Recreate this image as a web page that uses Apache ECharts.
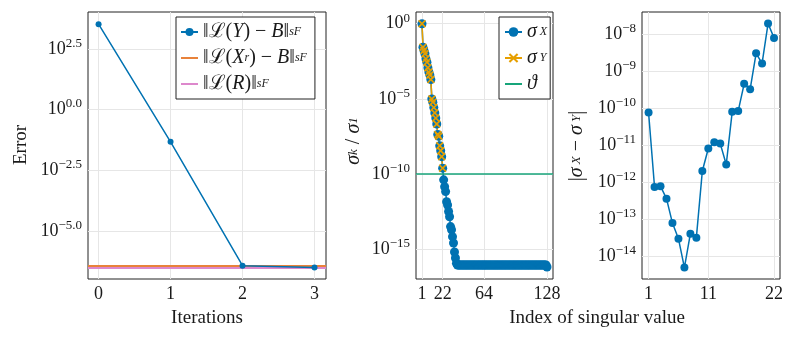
<!DOCTYPE html>
<html>
<head>
<meta charset="utf-8">
<script src="https://cdn.jsdelivr.net/npm/echarts@6/dist/echarts.min.js"></script>
<style>
  html, body { margin: 0; padding: 0; background: #fff; }
  #chart { width: 793px; height: 340px; }
</style>
</head>
<body>
<div id="chart"></div>
<script>
// ---- data ----
const iterations = [0, 1, 2, 3]
const errY = [3.3e3, 4.7e-2, 3.7e-7, 3.1e-7]   // ||L(Y) - B||_sF
const errXr = 3.6e-7                            // ||L(X_r) - B||_sF (horizontal line)
const errR = 3.1e-7                             // ||L(R)||_sF (horizontal line)

const sigmaX = [
  1, 2.75e-2, 1.66e-2, 1.0e-2, 4.57e-3, 2.75e-3, 1.17e-3, 6.0e-4, 3.8e-4, 1.9e-4,
  9.8e-6, 6.0e-6, 2.6e-6, 1.15e-6, 5.2e-7, 2.1e-7, 4.2e-8, 3.2e-8, 7.4e-9, 3.5e-9,
  1.4e-9, 2.4e-10, 4.0e-11, 1.4e-11, 6.6e-12, 1.4e-12, 8.5e-13, 3.1e-13, 1.4e-13, 3.1e-14,
  1.9e-14, 6.6e-15, 2.5e-15, 6.3e-16, 2.5e-16, 1.1e-16, 8.5e-17, 8.5e-17, 8.5e-17, 8.5e-17,
  8.5e-17, 8.5e-17, 8.5e-17, 8.5e-17, 8.5e-17, 8.5e-17, 8.5e-17, 8.5e-17, 8.5e-17, 8.5e-17,
  8.5e-17, 8.5e-17, 8.5e-17, 8.5e-17, 8.5e-17, 8.5e-17, 8.5e-17, 8.5e-17, 8.5e-17, 8.5e-17,
  8.5e-17, 8.5e-17, 8.5e-17, 8.5e-17, 8.5e-17, 8.5e-17, 8.5e-17, 8.5e-17, 8.5e-17, 8.5e-17,
  8.5e-17, 8.5e-17, 8.5e-17, 8.5e-17, 8.5e-17, 8.5e-17, 8.5e-17, 8.5e-17, 8.5e-17, 8.5e-17,
  8.5e-17, 8.5e-17, 8.5e-17, 8.5e-17, 8.5e-17, 8.5e-17, 8.5e-17, 8.5e-17, 8.5e-17, 8.5e-17,
  8.5e-17, 8.5e-17, 8.5e-17, 8.5e-17, 8.5e-17, 8.5e-17, 8.5e-17, 8.5e-17, 8.5e-17, 8.5e-17,
  8.5e-17, 8.5e-17, 8.5e-17, 8.5e-17, 8.5e-17, 8.5e-17, 8.5e-17, 8.5e-17, 8.5e-17, 8.5e-17,
  8.5e-17, 8.5e-17, 8.5e-17, 8.5e-17, 8.5e-17, 8.5e-17, 8.5e-17, 8.5e-17, 8.5e-17, 8.5e-17,
  8.5e-17, 8.5e-17, 8.5e-17, 8.5e-17, 8.5e-17, 8.5e-17, 8.5e-17, 6.3e-17
]
const sigmaY = [
  1, 2.75e-2, 1.66e-2, 1.0e-2, 4.57e-3, 2.75e-3, 1.17e-3, 6.0e-4, 3.8e-4, 1.9e-4,
  9.8e-6, 6.0e-6, 2.6e-6, 1.15e-6, 5.2e-7, 2.1e-7, 4.2e-8, 3.2e-8, 7.4e-9, 3.5e-9,
  1.4e-9, 2.4e-10
]
const theta = 1e-10

const sigmaDiff = [
  7.6e-11, 7.4e-13, 7.8e-13, 3.6e-13, 7.9e-14, 3.0e-14, 5.0e-15, 4.1e-14, 3.2e-14, 2.0e-12,
  8.1e-12, 1.2e-11, 1.1e-11, 3.0e-12, 7.9e-11, 8.3e-11, 4.5e-10, 3.2e-10, 3.0e-9, 1.6e-9,
  1.9e-8, 7.8e-9
]

const iterTicks = [0, 1, 2, 3]
const errExpTicks = [-5, -2.5, 0, 2.5]
const indexTicks = [1, 22, 64, 128]
const sigmaExpTicks = [-15, -10, -5, 0]
const diffIndexTicks = [1, 11, 22]
const diffExpTicks = [-14, -13, -12, -11, -10, -9, -8]

// ---- styling ----
const FONT = '"Liberation Serif", "DejaVu Serif", serif'
const INK = '#1a1a1a'
const BLUE = '#0072b2'
const ORANGE = '#e8823a'
const PINK = '#dd88cc'
const GOLD = '#e69f00'
const GREEN = '#17a57a'
const GRIDLINE = '#e6e6e6'
const XMARK = 'path://M0,1.5L1.5,0L5,3.5L8.5,0L10,1.5L6.5,5L10,8.5L8.5,10L5,6.5L1.5,10L0,8.5L3.5,5Z'
// plain line icon for the legend (thin bar centred in an 18x10 box)
const BAR = 'path://M0,0H0.01V10H0Z M0,4H18V6H0Z'

const log10 = v => Math.log10(v)
const minus = s => String(s).replace('-', '−')

const expRich = {
  b: { fontFamily: FONT, fontSize: 18, color: INK, lineHeight: 24 },
  s: { fontFamily: FONT, fontSize: 13, color: INK, lineHeight: 12, verticalAlign: 'top' }
}

function xAxis(gridIndex, min, max, ticks) {
  return {
    type: 'value', gridIndex, min, max,
    axisLine: { show: false },
    axisTick: { show: false, customValues: ticks },
    axisLabel: { customValues: ticks, fontFamily: FONT, fontSize: 18, color: INK, margin: 6 },
    splitLine: { show: true, lineStyle: { color: GRIDLINE, width: 1 } }
  }
}
function yAxis(gridIndex, min, max, ticks, digits) {
  return {
    type: 'value', gridIndex, min, max,
    axisLine: { show: false },
    axisTick: { show: false, customValues: ticks },
    axisLabel: {
      customValues: ticks, margin: 6,
      formatter: v => '{b|10}{s|' + minus(v.toFixed(digits)) + '}',
      rich: expRich
    },
    splitLine: { show: true, lineStyle: { color: GRIDLINE, width: 1 } }
  }
}
function frame(left, width) {
  return {
    left, top: 12, width, height: 267,
    show: true, borderColor: '#222', borderWidth: 1, backgroundColor: '#fff',
    containLabel: false, outerBoundsMode: 'none'
  }
}

const legendRich = {
  n: { fontFamily: FONT, fontSize: 20, color: INK, lineHeight: 22 },
  i: { fontFamily: FONT, fontSize: 20, color: INK, lineHeight: 22, fontStyle: 'italic' },
  s: { fontFamily: FONT, fontSize: 12, color: INK, lineHeight: 8, fontStyle: 'italic' }
}
const legendNames = {
  errY: '{n|‖ℒ(}{i|Y}{n|) − }{i|B}{n|‖}{s|sF}',
  errX: '{n|‖ℒ(}{i|X}{s|r}{n|) − }{i|B}{n|‖}{s|sF}',
  errR: '{n|‖ℒ(}{i|R}{n|)‖}{s|sF}',
  sigX: '{i|σ}{s| X}',
  sigY: '{i|σ}{s| Y}',
  theta: '{i|ϑ}'
}

function title(text, x, y, rotate) {
  return {
    type: 'text', x, y, rotation: rotate ? Math.PI / 2 : 0,
    style: {
      text, fontFamily: FONT, fontSize: 19, fill: INK,
      align: 'center', verticalAlign: 'middle',
      rich: {
        i: { fontFamily: FONT, fontSize: 20, fontStyle: 'italic', fill: INK, lineHeight: 24 },
        n: { fontFamily: FONT, fontSize: 20, fill: INK, lineHeight: 24 },
        s: { fontFamily: FONT, fontSize: 13, fontStyle: 'italic', fill: INK, lineHeight: 8 }
      }
    }
  }
}

const option = {
  animation: false,
  backgroundColor: '#fff',
  grid: [frame(88, 238), frame(416, 137), frame(642, 138)],
  xAxis: [
    xAxis(0, -0.147, 3.16, iterTicks),
    xAxis(1, -5.1, 134.1, indexTicks),
    xAxis(2, -0.1, 23.0, diffIndexTicks)
  ],
  yAxis: [
    yAxis(0, -6.98, 4.02, errExpTicks, 1),
    yAxis(1, -17.0, 0.78, sigmaExpTicks, 0),
    yAxis(2, -14.61, -7.41, diffExpTicks, 0)
  ],
  legend: [
    {
      data: ['errY', { name: 'errX', icon: BAR }, { name: 'errR', icon: BAR }],
      orient: 'vertical', left: 176, top: 17,
      padding: [5, 8, 5, 4], itemGap: 6, itemWidth: 17, itemHeight: 10,
      borderColor: '#222', borderWidth: 1, backgroundColor: '#fff',
      formatter: name => legendNames[name], textStyle: { rich: legendRich }
    },
    {
      data: ['sigX', 'sigY', { name: 'theta', icon: BAR }],
      orient: 'vertical', left: 499, top: 17,
      padding: [5, 3, 5, 5], itemGap: 6, itemWidth: 17, itemHeight: 12,
      borderColor: '#222', borderWidth: 1, backgroundColor: '#fff',
      formatter: name => legendNames[name], textStyle: { rich: legendRich }
    }
  ],
  series: [
    {
      name: 'errX', type: 'line', xAxisIndex: 0, yAxisIndex: 0, data: [],
      symbol: 'none', color: ORANGE, lineStyle: { width: 2 },
      markLine: {
        silent: true, symbol: 'none', label: { show: false },
        lineStyle: { color: ORANGE, width: 2, type: 'solid' },
        data: [{ yAxis: log10(errXr) }]
      }
    },
    {
      name: 'errR', type: 'line', xAxisIndex: 0, yAxisIndex: 0, data: [],
      symbol: 'none', color: PINK, lineStyle: { width: 2 },
      markLine: {
        silent: true, symbol: 'none', label: { show: false },
        lineStyle: { color: PINK, width: 2, type: 'solid' },
        data: [{ yAxis: log10(errR) }]
      }
    },
    {
      name: 'errY', type: 'line', xAxisIndex: 0, yAxisIndex: 0, z: 5,
      data: iterations.map((it, i) => [it, log10(errY[i])]),
      symbol: 'circle', symbolSize: 6, color: BLUE, lineStyle: { width: 1.5 }
    },
    {
      name: 'sigX', type: 'line', xAxisIndex: 1, yAxisIndex: 1,
      data: sigmaX.map((v, i) => [i + 1, log10(v)]),
      symbol: 'circle', symbolSize: 9, color: BLUE, lineStyle: { width: 1.5 }
    },
    {
      name: 'sigY', type: 'line', xAxisIndex: 1, yAxisIndex: 1,
      data: sigmaY.map((v, i) => [i + 1, log10(v)]),
      symbol: XMARK, symbolSize: 8, color: GOLD, lineStyle: { width: 1.5 }
    },
    {
      name: 'theta', type: 'line', xAxisIndex: 1, yAxisIndex: 1, data: [],
      symbol: 'none', color: GREEN, lineStyle: { width: 1.5 },
      markLine: {
        silent: true, symbol: 'none', label: { show: false },
        lineStyle: { color: GREEN, width: 1.5, type: 'solid' },
        data: [{ yAxis: log10(theta) }]
      }
    },
    {
      name: 'diff', type: 'line', xAxisIndex: 2, yAxisIndex: 2,
      data: sigmaDiff.map((v, i) => [i + 1, log10(v)]),
      symbol: 'circle', symbolSize: 8, color: BLUE, lineStyle: { width: 1.5 }
    }
  ],
  graphic: [
    title('Error', 21, 145, true),
    title('Iterations', 207, 318, false),
    title('{i|σ}{s|k}{n| / }{i|σ}{s|1}', 354, 141, true),
    title('{n||}{i|σ}{s| X}{n| − }{i|σ}{s| Y}{n||}', 577, 146, true),
    title('Index of singular value', 597, 318, false)
  ]
}

const chart = echarts.init(document.getElementById('chart'), null, { renderer: 'canvas' })
chart.setOption(option)
window.addEventListener('resize', () => chart.resize())
</script>
</body>
</html>
